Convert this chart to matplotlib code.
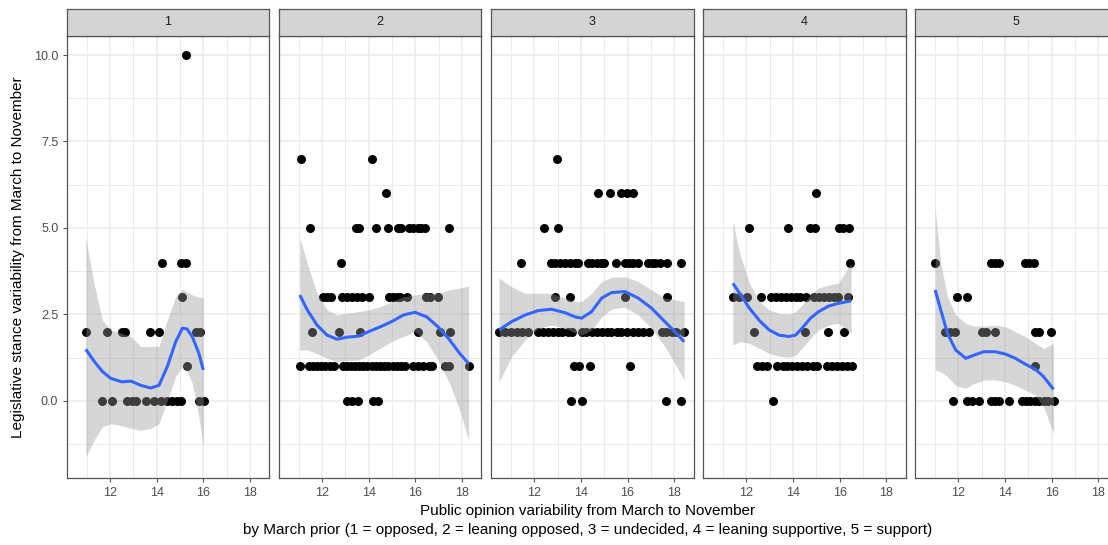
import matplotlib
matplotlib.use("Agg")
import matplotlib.pyplot as plt
import numpy as np

plt.rcParams['font.family'] = ['Liberation Sans', 'DejaVu Sans']

# scatter points per March prior group: {legislative stance variability: [public opinion variability, ...]}
pts1 = {
    10: [15.26],
    4: [14.21, 15.05, 15.25],
    3: [15.07],
    2: [10.96, 11.86, 12.5, 12.63, 13.71, 14.1, 15.67, 15.86],
    1: [15.29],
    0: [11.67, 12.1, 12.74, 12.96, 13.1, 13.53, 13.89, 14.17, 14.46, 14.67, 14.89, 15.06, 15.81, 16.03],
}
pts2 = {
    7: [11.1, 14.13],
    6: [14.74],
    5: [11.47, 13.46, 13.6, 14.31, 14.81, 15.24, 15.38, 15.74, 15.91, 16.09, 16.26, 16.43, 17.42],
    4: [12.81],
    3: [12.02, 12.2, 12.38, 12.85, 13.06, 13.28, 13.49, 13.7, 14.03, 14.88, 15.05, 15.2, 15.34, 15.65,
        16.45, 16.62, 16.97],
    2: [11.57, 12.74, 13.63, 16.09, 17.07, 17.47],
    1: [11.04, 11.43, 11.61, 11.78, 11.95, 12.14, 12.32, 12.52, 12.89, 13.06, 13.23, 13.42, 13.6, 13.77,
        13.94, 14.13, 14.31, 14.49, 14.66, 14.84, 15.03, 15.2, 15.37, 15.55, 15.91, 16.12, 16.31, 16.59,
        16.69, 17.26, 17.44, 18.28],
    0: [13.06, 13.28, 13.52, 14.17, 14.41],
}
pts3 = {
    7: [12.96],
    6: [14.74, 15.24, 15.74, 15.96, 16.24],
    5: [12.4, 13.0],
    4: [11.43, 12.71, 12.89, 13.1, 13.31, 13.53, 13.74, 13.89, 14.31, 14.49, 14.67, 14.86, 15.0, 15.49,
        15.89, 16.06, 16.24, 16.43, 16.86, 17.03, 17.2, 17.39, 17.71, 18.31],
    3: [12.89, 13.53, 15.89, 17.71],
    2: [10.49, 10.74, 11.0, 11.24, 11.46, 11.74, 12.17, 12.39, 12.6, 12.81, 13.0, 13.2, 13.43, 13.63,
        14.03, 14.24, 14.46, 14.67, 14.89, 15.1, 15.31, 15.53, 15.74, 15.96, 16.24, 16.46, 16.67, 16.91,
        17.46, 17.67, 17.89, 18.1, 18.43],
    1: [13.71, 13.91, 14.39, 16.11],
    0: [13.57, 14.06, 17.67, 18.29],
}
pts4 = {
    6: [14.99],
    5: [12.13, 13.8, 14.75, 14.93, 15.98, 16.16, 16.4],
    4: [16.46],
    3: [11.42, 11.68, 12.02, 12.63, 13.05, 13.26, 13.48, 13.69, 13.9, 14.11, 14.32, 14.54, 14.89, 15.1,
        15.31, 15.53, 15.74, 15.95, 16.37],
    2: [12.34, 14.51, 15.5, 16.2],
    1: [12.46, 12.67, 12.87, 13.33, 13.55, 13.76, 13.97, 14.18, 14.39, 14.61, 14.85, 15.03, 15.46, 15.67,
        15.88, 16.09, 16.3, 16.52],
    0: [13.15],
}
pts5 = {
    4: [11.0, 13.38, 13.56, 13.76, 14.87, 15.04, 15.22],
    3: [11.95, 12.35],
    2: [11.43, 11.63, 11.85, 12.99, 13.19, 13.56, 15.3, 15.47, 15.98],
    1: [15.3],
    0: [11.77, 12.35, 12.56, 12.9, 13.38, 13.56, 13.76, 14.16, 14.73, 14.9, 15.08, 15.27, 15.47, 15.65,
        15.84, 16.08],
}

# loess fits: x, fit, lower, upper
fit1_x = [10.96, 11.31, 11.67, 12.03, 12.5, 12.9, 13.31, 13.74, 14.1, 14.46, 14.81, 15.1, 15.3, 15.53, 15.81, 16.0]
fit1_y = [1.49, 1.15, 0.85, 0.65, 0.55, 0.57, 0.45, 0.37, 0.45, 1.0, 1.7, 2.1, 2.08, 1.85, 1.37, 0.89]
fit1_lo = [-1.62, -1.14, -0.75, -0.66, -0.72, -0.80, -0.85, -0.80, -0.66, 0.02, 0.70, 0.99, 0.85, 0.50, -0.46, -1.33]
fit1_hi = [4.71, 3.40, 2.34, 2.05, 1.95, 1.86, 1.57, 1.57, 1.57, 2.34, 3.01, 3.23, 3.15, 3.06, 3.0, 2.99]

fit2_x = [11.04, 11.36, 11.78, 12.21, 12.64, 13.06, 13.56, 13.99, 14.49, 14.98, 15.48, 15.98, 16.48, 16.97, 17.47, 17.9, 18.28]
fit2_y = [3.06, 2.63, 2.19, 1.90, 1.78, 1.84, 1.87, 2.0, 2.14, 2.29, 2.48, 2.56, 2.43, 2.14, 1.76, 1.37, 1.08]
fit2_lo = [1.47, 1.47, 1.37, 1.23, 1.13, 1.16, 1.18, 1.32, 1.52, 1.71, 1.86, 2.0, 1.71, 1.18, 0.50, -0.27, -1.14]
fit2_hi = [4.71, 3.98, 3.11, 2.63, 2.48, 2.53, 2.58, 2.63, 2.72, 2.87, 3.01, 3.06, 3.11, 3.11, 3.21, 3.26, 3.32]

fit3_x = [10.49, 11.03, 11.6, 12.17, 12.74, 13.31, 13.74, 14.03, 14.46, 14.89, 15.31, 15.89, 16.46, 17.03, 17.6, 18.03, 18.43]
fit3_y = [2.05, 2.29, 2.48, 2.61, 2.65, 2.55, 2.43, 2.39, 2.58, 2.97, 3.13, 3.16, 2.97, 2.68, 2.29, 2.0, 1.71]
fit3_lo = [0.55, 1.28, 1.76, 2.10, 2.19, 2.10, 1.97, 1.90, 2.05, 2.43, 2.65, 2.71, 2.48, 2.10, 1.57, 1.08, 0.6]
fit3_hi = [3.55, 3.30, 3.11, 3.11, 3.11, 2.97, 2.87, 2.87, 3.11, 3.45, 3.57, 3.59, 3.45, 3.21, 2.97, 2.92, 2.87]

fit4_x = [11.42, 11.71, 12.13, 12.56, 12.98, 13.4, 13.83, 14.11, 14.39, 14.75, 15.1, 15.53, 15.95, 16.49]
fit4_y = [3.40, 3.11, 2.68, 2.32, 2.05, 1.90, 1.86, 1.90, 2.10, 2.39, 2.58, 2.74, 2.82, 2.89]
fit4_lo = [1.61, 1.71, 1.66, 1.52, 1.37, 1.29, 1.26, 1.32, 1.52, 1.81, 2.05, 2.19, 2.24, 1.95]
fit4_hi = [5.19, 4.27, 3.40, 2.87, 2.63, 2.53, 2.51, 2.58, 2.77, 3.06, 3.26, 3.35, 3.40, 3.98]

fit5_x = [11.0, 11.24, 11.53, 11.88, 12.31, 12.66, 13.09, 13.59, 14.02, 14.44, 14.87, 15.3, 15.65, 16.08]
fit5_y = [3.21, 2.63, 1.95, 1.47, 1.23, 1.32, 1.42, 1.42, 1.35, 1.23, 1.06, 0.91, 0.70, 0.33]
fit5_lo = [0.89, 0.84, 0.70, 0.45, 0.36, 0.50, 0.60, 0.60, 0.55, 0.45, 0.31, 0.16, -0.17, -0.95]
fit5_hi = [5.57, 3.98, 3.01, 2.48, 2.24, 2.16, 2.16, 2.19, 2.14, 2.0, 1.86, 1.66, 1.52, 1.66]

panels = ['1', '2', '3', '4', '5']
points = [pts1, pts2, pts3, pts4, pts5]
fits = [(fit1_x, fit1_y, fit1_lo, fit1_hi), (fit2_x, fit2_y, fit2_lo, fit2_hi),
        (fit3_x, fit3_y, fit3_lo, fit3_hi), (fit4_x, fit4_y, fit4_lo, fit4_hi),
        (fit5_x, fit5_y, fit5_lo, fit5_hi)]

W, H = 1108, 545
fig = plt.figure(figsize=(W / 100, H / 100), dpi=100)

border = '#555555'
for i, name in enumerate(panels):
    left = 66.7 + 212.1 * i
    ax = fig.add_axes([left / W, (H - 478.3) / H, 202.6 / W, (478.3 - 36) / H])
    ax.set_xlim(10.14, 18.83)
    ax.set_ylim(-2.24, 10.55)
    ax.set_xticks([12, 14, 16, 18])
    ax.set_xticks([11, 13, 15, 17], minor=True)
    ax.set_yticks([0, 2.5, 5, 7.5, 10])
    ax.set_yticks([-1.25, 1.25, 3.75, 6.25, 8.75], minor=True)
    ax.grid(which='major', color='#EBEBEB', lw=1.1)
    ax.grid(which='minor', color='#EBEBEB', lw=0.7)
    ax.set_axisbelow(True)
    for s in ax.spines.values():
        s.set_color(border)
        s.set_linewidth(0.9)
    ax.tick_params(which='major', length=3, width=0.8, color=border, labelcolor='#4D4D4D',
                   labelsize=9, pad=3)
    ax.tick_params(which='minor', length=0)
    if i == 0:
        ax.set_yticklabels(['0.0', '2.5', '5.0', '7.5', '10.0'])
    else:
        ax.tick_params(axis='y', labelleft=False, length=0)

    xs, ys = [], []
    for yv, xl in points[i].items():
        xs += xl
        ys += [yv] * len(xl)
    ax.scatter(xs, ys, s=42, color='black', linewidths=0, zorder=2)

    fx, fy, flo, fhi = fits[i]
    ax.fill_between(fx, flo, fhi, color='#999999', alpha=0.4, lw=0, zorder=3)
    ax.plot(fx, fy, color='#3366FF', lw=2.2, zorder=4, solid_capstyle='butt')

    sax = fig.add_axes([left / W, (H - 35.5) / H, 202.6 / W, 26.5 / H])
    sax.set_facecolor('#D4D4D4')
    sax.set_xticks([])
    sax.set_yticks([])
    for s in sax.spines.values():
        s.set_color(border)
        s.set_linewidth(0.9)
    sax.text(0.5, 0.5, name, ha='center', va='center', fontsize=9, color='#1A1A1A',
             transform=sax.transAxes)

fig.text(18 / W, (H - 257) / H, 'Legislative stance variability from March to November',
         rotation=90, ha='center', va='center', fontsize=11, color='black')
fig.text(588 / W, (H - 511) / H, 'Public opinion variability from March to November',
         ha='center', va='center', fontsize=11, color='black')
fig.text(588 / W, (H - 530) / H,
         'by March prior (1 = opposed, 2 = leaning opposed, 3 = undecided, 4 = leaning supportive, 5 = support)',
         ha='center', va='center', fontsize=11, color='black')

fig.savefig('out.png', dpi=100)
